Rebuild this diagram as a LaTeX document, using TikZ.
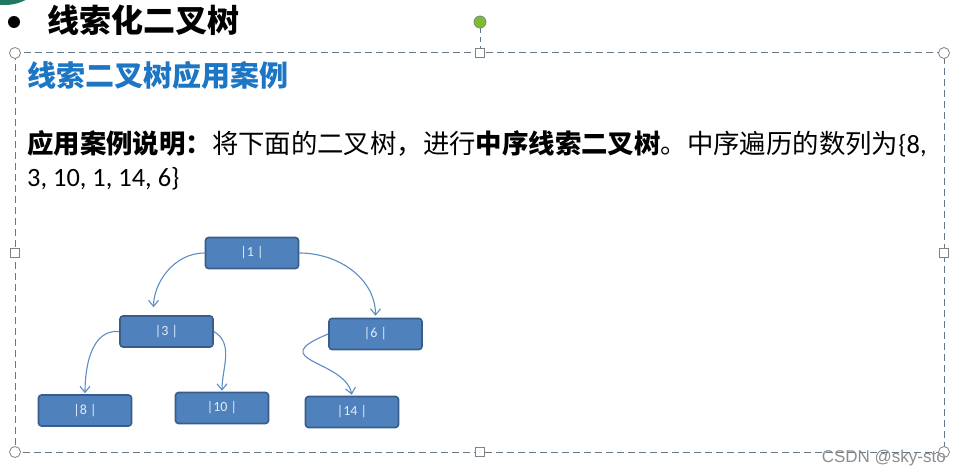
\documentclass[tikz,border=0pt]{standalone}
\usepackage{fontspec}
\setmainfont{Carlito}
\newfontfamily\cjk{Noto Sans CJK SC}
\newfontfamily\markfont{Liberation Sans}
\usetikzlibrary{arrows.meta}
\definecolor{nodeblue}{RGB}{79,129,189}
\definecolor{nodeedge}{RGB}{56,93,138}
\definecolor{nodetext}{RGB}{225,235,248}
\definecolor{linkblue}{RGB}{92,140,198}
\definecolor{headblue}{RGB}{28,118,196}
\definecolor{framegray}{RGB}{100,120,140}
\definecolor{handlegray}{RGB}{130,130,130}
\definecolor{rotgreen}{RGB}{122,190,48}
\definecolor{cornerteal}{RGB}{30,120,100}
\definecolor{markgray}{RGB}{140,140,140}

\begin{document}
\begin{tikzpicture}[x=1pt,y=-1pt,>={Straight Barb[length=6pt,width=10pt]}]
  \tikzstyle{treenode}=[rectangle,rounded corners=3pt,draw=nodeedge,line width=1.6pt,fill=nodeblue,minimum width=93pt,minimum height=31pt,text=nodetext,font=\fontsize{14}{16}\selectfont]
  \tikzstyle{link}=[->,draw=linkblue,line width=1.1pt]
  \tikzstyle{cornerhandle}=[circle,draw=handlegray,fill=white,line width=0.8pt,minimum size=11pt,inner sep=0pt]
  \tikzstyle{sidehandle}=[rectangle,draw=handlegray,fill=white,line width=0.8pt,minimum size=9pt,inner sep=0pt]

  \useasboundingbox (0,0) rectangle (962,476);
  \begin{scope}
    \clip (0,0) rectangle (60,30);
    \fill[cornerteal] (5,-40) circle (45);
  \end{scope}

  % title line
  \node[circle,fill=black,minimum size=12pt,inner sep=0pt] (bullet) at (14,22) {};
  \node[anchor=base west,inner sep=0pt,font=\cjk\bfseries\fontsize{32}{36}\selectfont] (title) at (47,33) {线索化二叉树};

  % selection frame
  \draw[framegray,dashed,dash pattern=on 7pt off 4pt,line width=1pt] (15,53) rectangle (944,452);
  \foreach \p [count=\i] in {(15,53),(944,53),(15,452),(944,452)}
    \node[cornerhandle] (c\i) at \p {};
  \foreach \p [count=\i] in {(480,53),(944,253),(480,452),(15,253)}
    \node[sidehandle] (s\i) at \p {};
  \node[circle,draw=handlegray,fill=rotgreen,line width=0.8pt,minimum size=12pt,inner sep=0pt] (rot) at (480,22) {};
  \draw[framegray,dashed,dash pattern=on 5pt off 4pt,line width=1pt] (rot) -- (s1);

  % texts
  \node[anchor=base west,inner sep=0pt,text=headblue,font=\cjk\bfseries\fontsize{29}{32}\selectfont] (head) at (27,87) {线索二叉树应用案例};
  \node[anchor=base west,inner sep=0pt,font=\fontsize{26.4}{33}\selectfont] (line1) at (27,154)
    {{\cjk\bfseries 应用案例说明：}{\cjk 将下面的二叉树，进行}{\cjk\bfseries 中序线索二叉树}{\cjk 。中序遍历的数列为}\{8,};
  \node[anchor=base west,inner sep=0pt,font=\fontsize{26.4}{33}\selectfont] (line2) at (27,187) {3, 10, 1, 14, 6\}};

  % tree
  \node[treenode] (n1) at (252,253) {|1 |};
  \node[treenode] (n3) at (166.5,331.5) {|3 |};
  \node[treenode] (n6) at (375.5,334) {|6 |};
  \node[treenode] (n8) at (85,410.5) {|8 |};
  \node[treenode] (n10) at (222,408) {|10 |};
  \node[treenode] (n14) at (352,412) {|14 |};

  \draw[link,shorten >=8pt] (n1.west) to[out=180,in=90] ([xshift=-13pt]n3.north);
  \draw[link,shorten >=2pt] (n1.east) to[out=0,in=90] (n6.north);
  \draw[link,shorten >=1pt] (n3.west) to[out=175,in=90] (n8.north);
  \draw[link,shorten >=1pt] (n3.east) to[out=-30,in=90] (n10.north);
  \draw[link,shorten >=1pt] (n6.west) .. controls +(-66,27) and ([xshift=-7pt,yshift=36pt]n14.north) .. (n14.north);

  \node[anchor=base east,inner sep=0pt,text=markgray,font=\markfont\fontsize{17}{19}\selectfont] (mark) at (946,462) {CSDN @sky-sto};
\end{tikzpicture}
\end{document}
